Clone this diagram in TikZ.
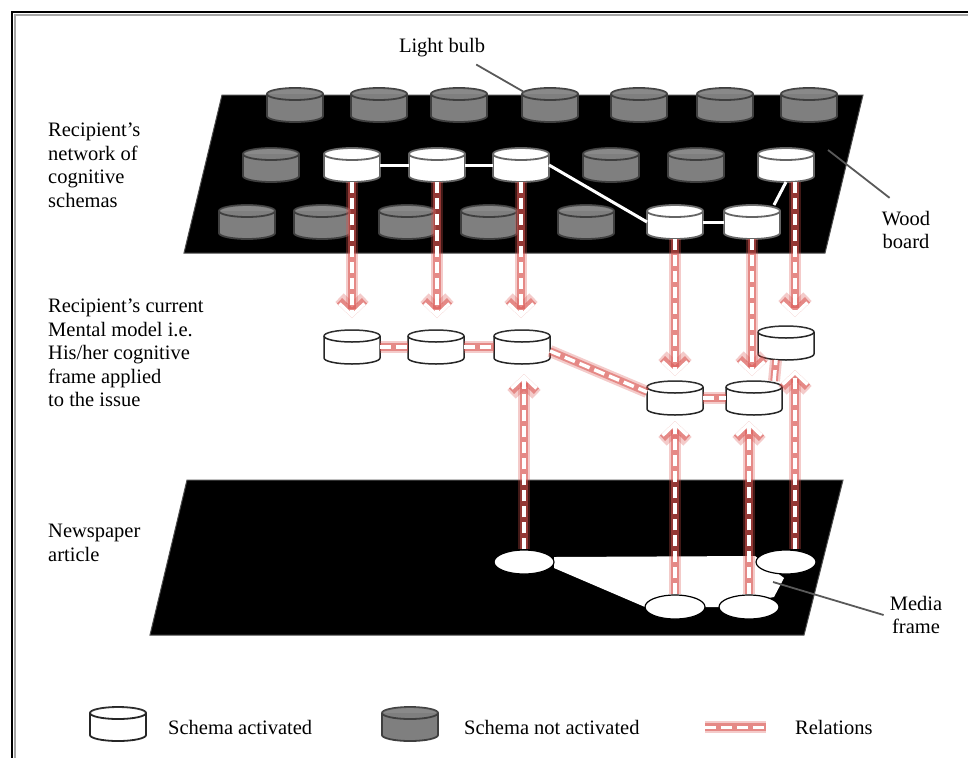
\documentclass[tikz,border=0pt]{standalone}
\usepackage{fontspec}
\setmainfont{Liberation Serif}
\usetikzlibrary{shapes.geometric,arrows.meta,positioning}
\definecolor{relred}{HTML}{D9534F}
\definecolor{schemagray}{HTML}{7F7F7F}
\definecolor{rimgray}{HTML}{3F3F3F}

% a schema: style, name, x, y (cylinder 56 x 34)
\newcommand{\drawschema}[4]{%
  \node[schemabox] (#2) at (#3,#4) {};
  \filldraw[#1] (#3-28,#4-11) -- (#3-28,#4+11) arc[start angle=180, end angle=0, x radius=28, y radius=6]
    -- (#3+28,#4-11) arc[start angle=0, end angle=-180, x radius=28, y radius=6] -- cycle;
  \fill[white, opacity=0.08] (#3,#4-11) ellipse[x radius=28, y radius=6];
  \draw[#1] (#3-28,#4-11) arc[start angle=180, end angle=0, x radius=28, y radius=6];
}

\begin{document}
\begin{tikzpicture}[x=1pt,y=-1pt,
  lbl/.style={font=\fontsize{20.5}{23.5}\selectfont, align=left, inner sep=0},
  schemabox/.style={rectangle, minimum width=56, minimum height=34, inner sep=0, outer sep=0},
  schemaoff/.style={draw=rimgray, line width=1.8, fill=schemagray},
  schemaon/.style={draw=rimgray!80, line width=1.8, fill=white},
  schemamid/.style={draw=black!85, line width=1.5, fill=white},
  mediaschema/.style={ellipse, minimum width=60, minimum height=24, inner sep=0, fill=white, draw=black, line width=1.2},
  board/.style={fill=black, draw=black!70, line width=1},
  link/.style={draw=white, line width=3},
  rel/.style={draw=white, line width=3.5, dash pattern=on 11pt off 5pt,
    preaction={draw=relred, solid, line width=12, opacity=0.3},
    preaction={draw=relred, solid, line width=7.5, opacity=0.55}},
  relarrow/.style={rel, -{Straight Barb[length=12pt, width=25pt]}},
  pointer/.style={draw=black!65, line width=1.8}]
\useasboundingbox (0,0) rectangle (968,758);

% frame
\draw[black!35, line width=2.5] (968,15) -- (15,15) -- (15,758);
\draw[line width=2.5] (968,12) -- (12,12) -- (12,758);

% wood board with the schemas
\draw[board] (222,95) -- (863,95) -- (825,253) -- (184,253) -- cycle;
\foreach \x in {295,379,459,550,639,725,809}
  \drawschema{schemaoff}{top\x}{\x}{105};
\foreach \x in {271,611,696}
  \drawschema{schemaoff}{mid\x}{\x}{165};
\foreach \x in {247,322,407,489,586}
  \drawschema{schemaoff}{low\x}{\x}{222};
\drawschema{schemaon}{a1}{352}{165}
\drawschema{schemaon}{a2}{437}{165}
\drawschema{schemaon}{a3}{521}{165}
\drawschema{schemaon}{a7}{786}{165}
\drawschema{schemaon}{b1}{675}{222}
\drawschema{schemaon}{b2}{752}{222}
\draw[link] (a1.east) -- (a2.west);
\draw[link] (a2.east) -- (a3.west);
\draw[link] (a3.east) -- (b1.west);
\draw[link] (b1.east) -- (b2.west);
\draw[link] ([xshift=-6]b2.north east) -- (a7.south);

% newspaper article with the media frame
\draw[board] (187,480) -- (843,480) -- (804,635) -- (150,635) -- cycle;
\fill[white] (554,557) -- (755,556) -- (784,578) -- (774,597) -- (720,607) -- (645,607) -- (554,568) -- cycle;
\node[mediaschema] (e1) at (524,562) {};
\node[mediaschema] (e2) at (675,607) {};
\node[mediaschema] (e3) at (749,607) {};
\node[mediaschema] (e4) at (786,562) {};

% mental model
\drawschema{schemamid}{m1}{352}{347}
\drawschema{schemamid}{m2}{436}{347}
\drawschema{schemamid}{m3}{522}{347}
\drawschema{schemamid}{m4}{675}{398}
\drawschema{schemamid}{m5}{754}{398}
\drawschema{schemamid}{m6}{786}{343}
\draw[rel] (m1.east) -- (m2.west);
\draw[rel] (m2.east) -- (m3.west);
\draw[rel] ([yshift=-4]m3.east) -- ([yshift=6]m4.west);
\draw[rel] (m4.east) -- (m5.west);
\draw[rel] ([xshift=-8]m5.north east) -- ([xshift=-10]m6.south);

% activation from the board
\draw[relarrow, shorten >=12] (a1.south) -- (a1.south |- m1.north);
\draw[relarrow, shorten >=12] (a2.south) -- (a2.south |- m2.north);
\draw[relarrow, shorten >=12] (a3.south) -- (a3.south |- m3.north);
\draw[relarrow, shorten >=5] (b1.south) -- (b1.south |- m4.north);
\draw[relarrow, shorten >=5] (b2.south) -- (b2.south |- m5.north);
\draw[relarrow, shorten >=9] ([xshift=9]a7.south) -- ([xshift=9]m6.north);

% framing from the article
\draw[relarrow, shorten >=10] (e1.north) -- (e1.north |- m3.south);
\draw[relarrow, shorten >=6] (e2.north) -- (e2.north |- m4.south);
\draw[relarrow, shorten >=6] (e3.north) -- (e3.north |- m5.south);
\draw[relarrow, shorten >=10] ([xshift=9]e4.north) -- ([xshift=9]m6.south);

% labels
\node[lbl, anchor=north west] (network) at (48,123) {Recipient's\\network of\\cognitive\\schemas};
\node[lbl, anchor=north west] (mental) at (48,299) {Recipient's current\\Mental model i.e.\\His/her cognitive\\frame applied\\to the issue};
\node[lbl, anchor=north west] (article) at (48,524) {Newspaper\\article};
\node[lbl] (bulb) at (442,48) {Light bulb};
\node[lbl, align=center] (wood) at (906,230) {Wood\\board};
\node[lbl, align=center] (media) at (916,615) {Media\\frame};
\coordinate (bulbtip) at (524,92);
\coordinate (woodtip) at (828,150);
\coordinate (mediatip) at (773,582);
\draw[pointer] ([xshift=-9,yshift=-7]bulb.south east) -- (bulbtip);
\draw[pointer] (woodtip) -- ([xshift=8,yshift=13]wood.north west);
\draw[pointer] (mediatip) -- ([xshift=-6]media.west);

% legend
\drawschema{schemamid, line width=1.8}{keyon}{118}{724}
\node[lbl, anchor=west] (keyontext) at (168,727) {Schema activated};
\drawschema{schemaoff}{keyoff}{410}{724}
\node[lbl, anchor=west] (keyofftext) at (464,727) {Schema not activated};
\coordinate (keyrelA) at (705,727);
\coordinate (keyrelB) at (766,727);
\draw[rel, line width=3] (keyrelA) -- (keyrelB);
\node[lbl, anchor=west] (keyreltext) at (795,727) {Relations};
\end{tikzpicture}
\end{document}
